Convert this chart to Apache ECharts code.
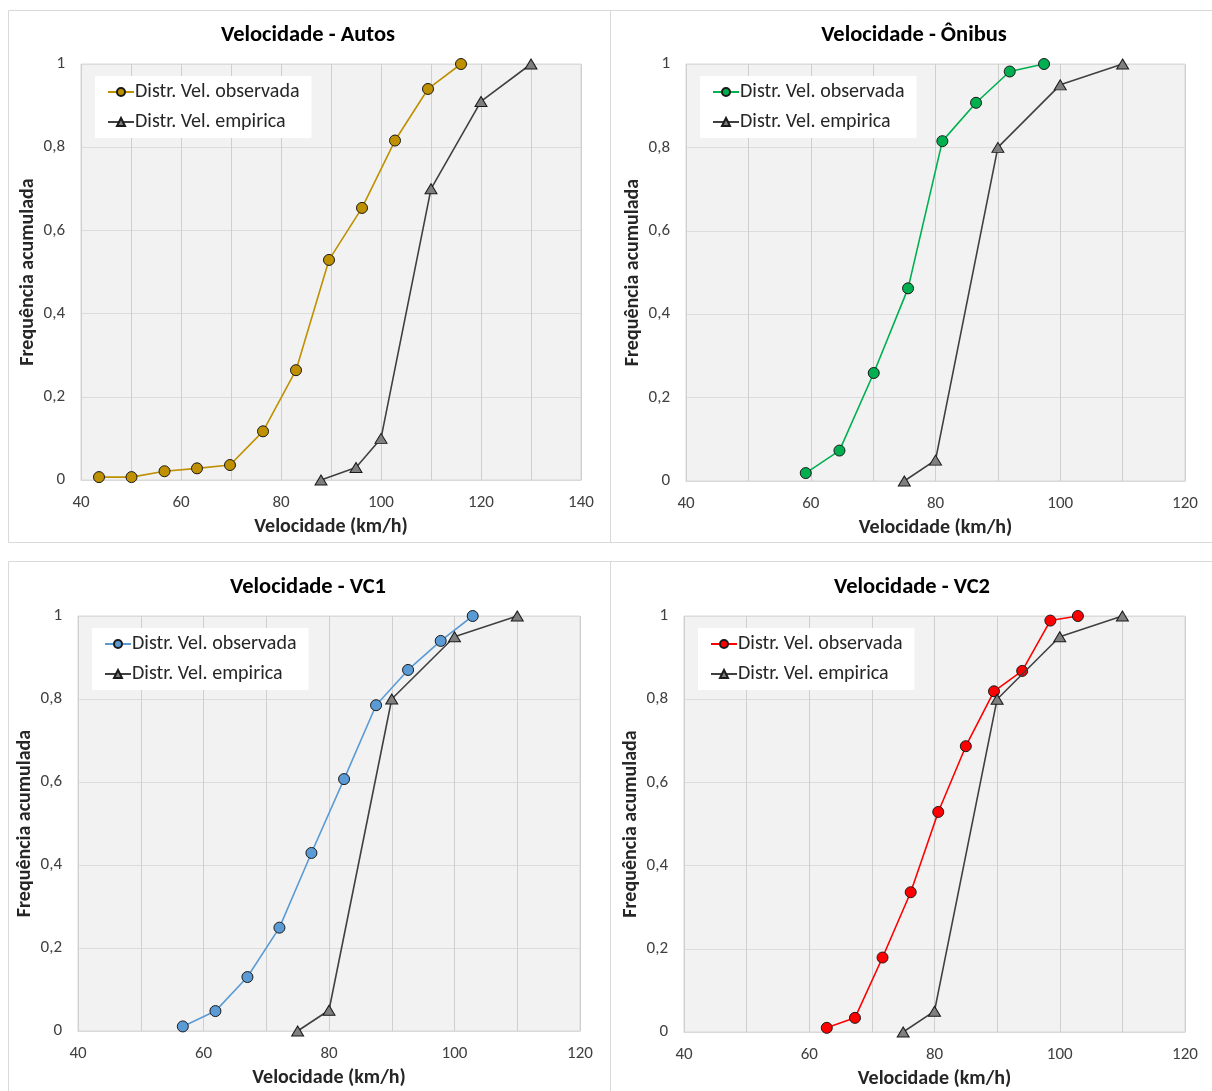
<!DOCTYPE html>
<html>
<head>
<meta charset="utf-8">
<script src="https://cdn.jsdelivr.net/npm/echarts@6/dist/echarts.min.js"></script>
<style>
html,body{margin:0;padding:0;background:#fff;}
#c{width:1212px;height:1091px;}
</style>
</head>
<body>
<div id="c"></div>
<script>
// ---- Data ----
const titles = ['Velocidade - Autos', 'Velocidade - Ônibus', 'Velocidade - VC1', 'Velocidade - VC2'];
const legendNames = ['Distr. Vel. observada', 'Distr. Vel. empirica'];
const xAxisTitle = 'Velocidade (km/h)';
const yAxisTitle = 'Frequência acumulada';

const autosObsX = [43.6, 50.1, 56.7, 63.2, 69.8, 76.4, 83.0, 89.6, 96.2, 102.8, 109.4, 116.0];
const autosObsY = [0.007, 0.007, 0.021, 0.028, 0.036, 0.117, 0.264, 0.529, 0.654, 0.816, 0.940, 1.0];
const autosEmpX = [88, 95, 100, 110, 120, 130];
const autosEmpY = [0, 0.03, 0.1, 0.7, 0.91, 1.0];

const onibusObsX = [59.2, 64.6, 70.1, 75.6, 81.1, 86.5, 91.9, 97.4];
const onibusObsY = [0.019, 0.073, 0.259, 0.462, 0.815, 0.907, 0.982, 1.0];
const onibusEmpX = [75, 80, 90, 100, 110];
const onibusEmpY = [0, 0.05, 0.8, 0.95, 1.0];

const vc1ObsX = [56.7, 61.9, 67.0, 72.1, 77.2, 82.4, 87.5, 92.6, 97.8, 102.9];
const vc1ObsY = [0.011, 0.048, 0.130, 0.249, 0.429, 0.607, 0.785, 0.870, 0.940, 1.0];
const vc1EmpX = [75, 80, 90, 100, 110];
const vc1EmpY = [0, 0.05, 0.8, 0.95, 1.0];

const vc2ObsX = [62.8, 67.3, 71.7, 76.2, 80.6, 85.0, 89.5, 94.0, 98.5, 102.9];
const vc2ObsY = [0.010, 0.034, 0.179, 0.336, 0.529, 0.687, 0.819, 0.868, 0.989, 1.0];
const vc2EmpX = [75, 80, 90, 100, 110];
const vc2EmpY = [0, 0.05, 0.8, 0.95, 1.0];

const xMins = [40, 40, 40, 40];
const xMaxs = [140, 120, 120, 120];
const yTicks = [0, 0.2, 0.4, 0.6, 0.8, 1];

// ---- Build ----
const FONT = 'Carlito, Lato, "Open Sans", sans-serif';
const obsColors = ['#BF9000', '#00B050', '#5B9BD5', '#FF0000'];
const obsData = [[autosObsX, autosObsY], [onibusObsX, onibusObsY], [vc1ObsX, vc1ObsY], [vc2ObsX, vc2ObsY]];
const empData = [[autosEmpX, autosEmpY], [onibusEmpX, onibusEmpY], [vc1EmpX, vc1EmpY], [vc2EmpX, vc2EmpY]];
const zip = (xs, ys) => xs.map((x, i) => [x, ys[i]]);

const grids = [
  {left: 81, top: 64, width: 500, height: 416},
  {left: 686, top: 64, width: 499, height: 417},
  {left: 78, top: 616, width: 502, height: 415},
  {left: 684, top: 616, width: 501, height: 416}
];
const titleCenters = [[303, 19], [909, 19], [303, 571], [907, 571]];

const option = {
  backgroundColor: '#ffffff',
  animation: false,
  textStyle: {fontFamily: FONT},
  graphic: [
    {type: 'rect', shape: {x: 8.5, y: 10.5, width: 602, height: 532}, style: {fill: 'none', stroke: '#d9d9d9', lineWidth: 1}},
    {type: 'rect', shape: {x: 610.5, y: 10.5, width: 620, height: 532}, style: {fill: 'none', stroke: '#d9d9d9', lineWidth: 1}},
    {type: 'rect', shape: {x: 8.5, y: 561.5, width: 602, height: 540}, style: {fill: 'none', stroke: '#d9d9d9', lineWidth: 1}},
    {type: 'rect', shape: {x: 610.5, y: 561.5, width: 620, height: 540}, style: {fill: 'none', stroke: '#d9d9d9', lineWidth: 1}}
  ],
  title: titles.map((t, i) => ({
    text: t, left: titleCenters[i][0], top: titleCenters[i][1], textAlign: 'center',
    textStyle: {fontFamily: FONT, fontSize: 22.5, fontWeight: 'bold', color: '#000'}
  })),
  legend: titles.map((t, i) => ({
    orient: 'vertical',
    left: grids[i].left + 14, top: grids[i].top + 12,
    backgroundColor: '#ffffff',
    padding: [6, 12, 6, 12],
    itemGap: 10,
    itemWidth: 26, itemHeight: 10,
    data: [legendNames[0] + ' ' + i, legendNames[1] + ' ' + i],
    formatter: n => n.replace(/ \d$/, ''),
    textStyle: {fontFamily: FONT, fontSize: 20, color: '#262626', padding: [0, 0, 0, -4]}
  })),
  grid: grids.map(g => Object.assign({show: true, backgroundColor: '#f2f2f2', borderColor: '#d9d9d9', borderWidth: 1}, g)),
  xAxis: grids.map((g, i) => ({
    type: 'value', gridIndex: i, min: xMins[i], max: xMaxs[i], interval: 10,
    name: xAxisTitle, nameLocation: 'middle', nameGap: 37,
    nameTextStyle: {fontFamily: FONT, fontSize: 20, fontWeight: 'bold', color: '#262626'},
    axisLine: {show: true, lineStyle: {color: '#d9d9d9'}},
    axisTick: {show: false},
    axisLabel: {fontFamily: FONT, fontSize: 17, color: '#404040', margin: 14,
      formatter: v => (v % 20 === 0 ? String(v) : '')},
    splitLine: {show: true, lineStyle: {color: '#cfcfcf', width: 1}}
  })),
  yAxis: grids.map((g, i) => ({
    type: 'value', gridIndex: i, min: 0, max: 1, interval: 0.2,
    name: yAxisTitle, nameLocation: 'middle', nameGap: 43,
    nameTextStyle: {fontFamily: FONT, fontSize: 20, fontWeight: 'bold', color: '#262626'},
    axisLine: {show: false},
    axisTick: {show: false},
    axisLabel: {fontFamily: FONT, fontSize: 17, color: '#404040', margin: 16,
      formatter: v => {
        const r = Math.round(v * 10) / 10;
        return yTicks.some(t => Math.abs(t - r) < 1e-9) ? String(r).replace('.', ',') : '';
      }},
    splitLine: {show: true, lineStyle: {color: '#dcdcdc', width: 1}}
  })),
  series: []
};

for (let i = 0; i < 4; i++) {
  option.series.push({
    name: legendNames[0] + ' ' + i, type: 'line', xAxisIndex: i, yAxisIndex: i,
    data: zip(obsData[i][0], obsData[i][1]),
    symbol: 'circle', symbolSize: 11,
    lineStyle: {color: obsColors[i], width: 1.6},
    itemStyle: {color: obsColors[i], borderColor: '#1a1a1a', borderWidth: 1},
    emphasis: {disabled: true}, z: 3
  });
  option.series.push({
    name: legendNames[1] + ' ' + i, type: 'line', xAxisIndex: i, yAxisIndex: i,
    data: zip(empData[i][0], empData[i][1]),
    symbol: 'triangle', symbolSize: [12, 10],
    lineStyle: {color: '#404040', width: 1.6},
    itemStyle: {color: '#7f7f7f', borderColor: '#1a1a1a', borderWidth: 1},
    emphasis: {disabled: true}, z: 4
  });
}

const chart = echarts.init(document.getElementById('c'), null, {renderer: 'canvas'});
chart.setOption(option);
</script>
</body>
</html>
